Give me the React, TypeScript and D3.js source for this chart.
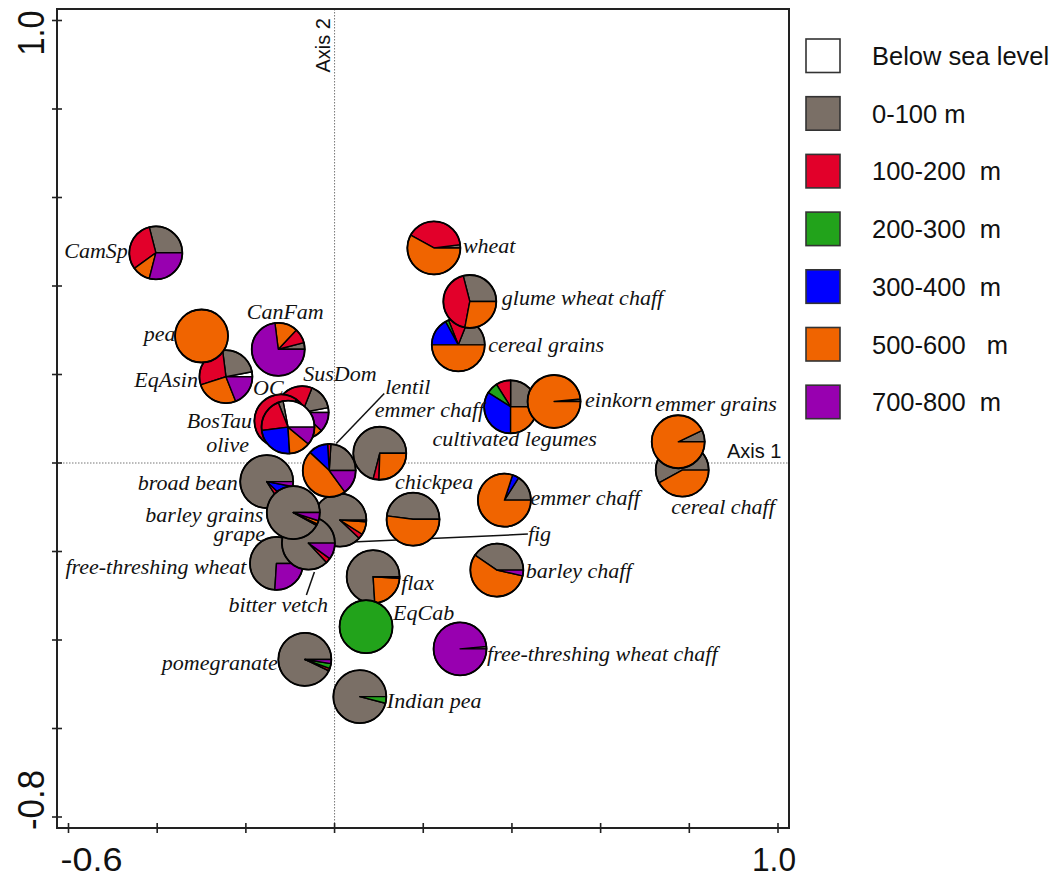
import React from 'react';
import * as d3 from 'd3';

// ---------- DATA ----------
const bandLabels = ['Below sea level', '0-100 m', '100-200  m', '200-300  m', '300-400  m', '500-600   m', '700-800  m'];
const bandColors = ['#ffffff', '#7a6f66', '#e2002a', '#22a31b', '#0000ff', '#f06400', '#9800b0'];

// sample ids, in drawing order (back to front)
const ids = [
  'CamSp', 'EqAsin', 'pea', 'CanFam', 'SusDom', 'BosTau', 'OC',
  'wheat', 'cereal grains', 'glume wheat chaff', 'cultivated legumes', 'einkorn',
  'cereal chaff', 'emmer grains', 'emmer chaff A', 'emmer chaff B', 'chickpea', 'barley chaff',
  'grape', 'free-threshing wheat', 'broad bean', 'fig', 'bitter vetch', 'barley grains', 'lentil',
  'flax', 'EqCab', 'free-threshing wheat chaff', 'pomegranate', 'Indian pea',
];
const axis1 = [
  -0.403, -0.245, -0.300, -0.127, -0.073, -0.121, -0.105,
  0.224, 0.279, 0.305, 0.397, 0.495,
  0.784, 0.775, 0.102, 0.383, 0.177, 0.366,
  -0.051, -0.131, -0.153, 0.012, -0.059, -0.093, -0.012,
  0.087, 0.071, 0.283, -0.067, 0.057,
];
const axis2 = [
  0.475, 0.195, 0.287, 0.257, 0.114, 0.095, 0.081,
  0.486, 0.267, 0.365, 0.127, 0.139,
  -0.016, 0.048, 0.022, -0.084, -0.127, -0.242,
  -0.156, -0.227, -0.042, -0.129, -0.181, -0.112, -0.017,
  -0.257, -0.370, -0.420, -0.444, -0.528,
];
// share (%) of each altitude band per sample
const belowSea = [0, 3, 0, 0, 3, 0, 28, 0, 0, 0, 0, 0, 0, 0, 0, 0, 0, 0, 0, 0, 0, 0, 0, 0, 0, 0, 0, 0, 0, 0];
const m0_100 = [29, 24, 0, 4, 16, 15, 3, 2, 19, 29, 25, 1.5, 58, 7, 71, 16, 48, 40.5, 90, 74, 84, 88, 87, 92, 24, 76, 0, 1.5, 93, 96];
const m100_200 = [31, 28, 0, 9, 35, 55, 21, 40, 12, 43, 9, 0, 0, 0, 3.5, 0, 0, 0, 0, 0, 4, 3, 3, 1, 2, 0, 0, 0, 1.5, 0];
const m200_300 = [0, 0, 0, 0, 0, 0, 0, 0, 2, 0, 7, 0, 0, 0, 0, 0, 0, 0, 0, 0, 0, 0, 0, 0, 0, 0, 100, 0, 3, 4];
const m300_400 = [0, 0, 0, 0, 26, 20, 24, 0, 17, 0, 34, 0, 0, 0, 0, 4, 0, 0, 0, 0, 9, 0, 0, 0, 12, 0, 0, 0, 0, 0];
const m500_600 = [11, 26, 100, 14, 8, 10, 13, 58, 50, 28, 25, 98.5, 42, 93, 25.5, 80, 52, 56, 0, 0, 0, 8, 0, 2, 47, 23, 0, 0, 0, 0];
const m700_800 = [29, 19, 0, 73, 12, 0, 11, 0, 0, 0, 0, 0, 0, 0, 0, 0, 0, 3.5, 10, 26, 3, 1, 10, 5, 15, 1, 0, 98.5, 2.5, 0];

const xTicks = [-0.6, -0.4, -0.2, 0, 0.2, 0.4, 0.6, 0.8, 1.0];
const yTicks = [-0.8, -0.6, -0.4, -0.2, 0, 0.2, 0.4, 0.6, 0.8, 1.0];

// ---------- LAYOUT (pixel offsets of labels from their pie) ----------
type Lab = [string, string, 'start' | 'end' | 'middle', number, number];
const labelLayout: Lab[] = [
  ['CamSp', 'CamSp', 'end', -28, 5],
  ['pea', 'pea', 'end', -26, 5],
  ['CanFam', 'CanFam', 'middle', 7, -30],
  ['EqAsin', 'EqAsin', 'end', -28, 10],
  ['OC', 'OC', 'start', -35, -32],
  ['SusDom', 'SusDom', 'start', 1, -32],
  ['BosTau', 'BosTau', 'end', -29, 7],
  ['OC', 'olive', 'end', -39, 25],
  ['lentil', 'lentil', 'start', 56, -77],
  ['emmer chaff A', 'emmer chaff', 'start', -5, -36],
  ['cultivated legumes', 'cultivated legumes', 'start', -78, 39],
  ['einkorn', 'einkorn', 'start', 31, 6],
  ['wheat', 'wheat', 'start', 29, 5],
  ['glume wheat chaff', 'glume wheat chaff', 'start', 32, 4],
  ['cereal grains', 'cereal grains', 'start', 30, 7],
  ['emmer grains', 'emmer grains', 'start', -23, -31],
  ['cereal chaff', 'cereal chaff', 'start', -11, 44],
  ['emmer chaff B', 'emmer chaff', 'start', 26, 5],
  ['fig', 'fig', 'start', 188, 21],
  ['barley chaff', 'barley chaff', 'start', 29, 8],
  ['chickpea', 'chickpea', 'start', -18, -30],
  ['flax', 'flax', 'start', 28, 13],
  ['EqCab', 'EqCab', 'start', 27, -7],
  ['free-threshing wheat chaff', 'free-threshing wheat chaff', 'start', 27, 12],
  ['Indian pea', 'Indian pea', 'start', 27, 11],
  ['pomegranate', 'pomegranate', 'end', -27, 11],
  ['bitter vetch', 'bitter vetch', 'start', -80, 69],
  ['free-threshing wheat', 'free-threshing wheat', 'end', -30, 11],
  ['grape', 'grape', 'end', -47, 9],
  ['broad bean', 'broad bean', 'end', -29, 8],
  ['barley grains', 'barley grains', 'end', -30, 9],
];
const leaderLayout: [string, number, number, number, number][] = [
  ['lentil', 7, -27, 55, -77],
  ['fig', 12, 22, 188, 14],
  ['bitter vetch', 6, 29, -2, 52],
];

const W = 1061;
const H = 879;
const R = 26.5;
const frame = { left: 57, top: 9, right: 789, bottom: 828 };

export default function App() {
  const x = d3.scaleLinear().domain([-0.6, 1.0]).range([68.5, 778]);
  const y = d3.scaleLinear().domain([-0.8, 1.0]).range([817, 20.5]);

  const bands = [belowSea, m0_100, m100_200, m200_300, m300_400, m500_600, m700_800];
  const pie = d3
    .pie<number>()
    .sort(null)
    .value((d) => d)
    .startAngle(Math.PI / 2)
    .endAngle(Math.PI / 2 - 2 * Math.PI);
  const arc = d3.arc<d3.PieArcDatum<number>>().innerRadius(0).outerRadius(R);

  const pos: Record<string, [number, number]> = {};
  ids.forEach((id, i) => {
    pos[id] = [x(axis1[i]), y(axis2[i])];
  });

  const serif = '"Liberation Serif", "Times New Roman", serif';
  const sans = '"Liberation Sans", Arial, sans-serif';

  return (
    <svg
      width={W}
      height={H}
      style={{ position: 'absolute', left: 0, top: 0, background: '#fff' }}
      xmlns="http://www.w3.org/2000/svg"
    >
      <rect x={0} y={0} width={W} height={H} fill="#fff" />
      {/* zero lines */}
      <line x1={x(0)} x2={x(0)} y1={frame.top} y2={frame.bottom} stroke="#777" strokeWidth={1} strokeDasharray="1.5,1.5" />
      <line x1={frame.left} x2={frame.right} y1={y(0)} y2={y(0)} stroke="#777" strokeWidth={1} strokeDasharray="1.5,1.5" />
      <text
        transform={`translate(${x(0) - 5},${frame.top + 9}) rotate(-90)`}
        textAnchor="end"
        fontFamily={sans}
        fontSize={20}
        fill="#111"
      >
        Axis 2
      </text>
      <text x={727} y={458} fontFamily={sans} fontSize={20} fill="#111">
        Axis 1
      </text>

      {/* frame */}
      <rect
        x={frame.left}
        y={frame.top}
        width={frame.right - frame.left}
        height={frame.bottom - frame.top}
        fill="none"
        stroke="#222"
        strokeWidth={2}
      />
      {yTicks.map((t) => (
        <line key={'yt' + t} x1={frame.left - 5} x2={frame.left + 5} y1={y(t)} y2={y(t)} stroke="#222" strokeWidth={1.6} />
      ))}
      {xTicks.map((t) => (
        <line key={'xt' + t} x1={x(t)} x2={x(t)} y1={frame.bottom - 5} y2={frame.bottom + 5} stroke="#222" strokeWidth={1.6} />
      ))}
      {/* tick labels */}
      <text transform={`translate(44,33) rotate(-90)`} textAnchor="middle" fontFamily={sans} fontSize={37} textLength={45} lengthAdjust="spacingAndGlyphs" fill="#111">
        {yTicks[yTicks.length - 1].toFixed(1)}
      </text>
      <text transform={`translate(44,800) rotate(-90)`} textAnchor="middle" fontFamily={sans} fontSize={37} textLength={60} lengthAdjust="spacingAndGlyphs" fill="#111">
        {yTicks[0].toFixed(1)}
      </text>
      <text x={x(xTicks[0]) + 23} y={871} textAnchor="middle" fontFamily={sans} fontSize={34} textLength={62} lengthAdjust="spacingAndGlyphs" fill="#111">
        {xTicks[0].toFixed(1)}
      </text>
      <text x={x(xTicks[xTicks.length - 1]) - 4} y={871} textAnchor="middle" fontFamily={sans} fontSize={34} textLength={44} lengthAdjust="spacingAndGlyphs" fill="#111">
        {xTicks[xTicks.length - 1].toFixed(1)}
      </text>

      {/* leader lines */}
      {leaderLayout.map(([id, dx1, dy1, dx2, dy2], i) => {
        const [cx, cy] = pos[id];
        return <line key={'ld' + i} x1={cx + dx1} y1={cy + dy1} x2={cx + dx2} y2={cy + dy2} stroke="#111" strokeWidth={1.5} />;
      })}

      {/* pies */}
      {ids.map((id, i) => {
        const vals = bands.map((b) => b[i]);
        const arcs = pie(vals);
        const [cx, cy] = pos[id];
        return (
          <g key={id} transform={`translate(${cx},${cy})`}>
            {arcs.map((a, j) =>
              a.data > 0 ? (
                <path key={j} d={arc(a) || ''} fill={bandColors[j]} stroke="#000" strokeWidth={1.4} strokeLinejoin="round" />
              ) : null
            )}
            <circle r={R} fill="none" stroke="#000" strokeWidth={1.8} />
          </g>
        );
      })}

      {/* labels */}
      {labelLayout.map(([id, text, anchor, dx, dy], i) => {
        const [cx, cy] = pos[id];
        return (
          <text
            key={'lb' + i}
            x={cx + dx}
            y={cy + dy}
            textAnchor={anchor}
            fontFamily={serif}
            fontStyle="italic"
            fontSize={22}
            fill="#111"
          >
            {text}
          </text>
        );
      })}

      {/* legend */}
      {bandLabels.map((b, i) => (
        <g key={'lg' + i} transform={`translate(806,${39 + i * 57.7})`}>
          <rect x={0} y={0} width={34} height={33.5} fill={bandColors[i]} stroke="#333" strokeWidth={1.6} />
          <text x={66} y={26} fontFamily={sans} fontSize={25.5} fill="#111" style={{ whiteSpace: 'pre' }} xmlSpace="preserve">
            {b}
          </text>
        </g>
      ))}
    </svg>
  );
}
